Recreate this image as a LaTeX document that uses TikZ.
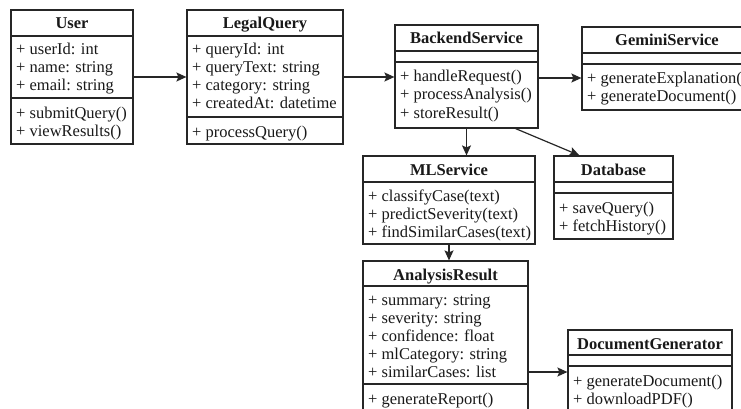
\documentclass[tikz,border=0pt]{standalone}
\usepackage{fontspec}
\setmainfont{Liberation Serif}
\usepackage{tikz}
\usetikzlibrary{arrows.meta,positioning,calc}

\begin{document}
\begin{tikzpicture}[x=1pt,y=-1pt,
    classbox/.style={draw=black!85, line width=1.2pt, inner sep=0pt},
    classname/.style={anchor=base, inner sep=0pt, text=black!90, font=\fontsize{16.5}{18}\selectfont\bfseries},
    member/.style={anchor=base west, inner sep=0pt, text=black!90, font=\fontsize{16.5}{18}\selectfont},
    sepline/.style={line width=1.2pt, black!85},
    uses/.style={-{Stealth[length=10pt,width=9pt,inset=2pt]}, line width=1.2pt, black!85}]
  \useasboundingbox (0,0) rectangle (741,409);
  \fill[white] (0,0) rectangle (741,409);
  \clip (0,0) rectangle (741,409);

  % User
  \node[classbox, minimum width=122pt, minimum height=134pt] (user) at (72,77) {};
  \draw[sepline] (user.west |- 0,36) -- (user.east |- 0,36);
  \draw[sepline] (user.west |- 0,98) -- (user.east |- 0,98);
  \node[classname] (user-t) at (72,29) {User};
  \foreach \m [count=\i] in {{+ userId: int},{+ name: string},{+ email: string}}
    \node[member] (user-a\i) at (16,37+18*\i) {\m};
  \foreach \m [count=\i] in {{+ submitQuery()},{+ viewResults()}}
    \node[member] (user-m\i) at (16,100+18*\i) {\m};

  % LegalQuery
  \node[classbox, minimum width=156pt, minimum height=134pt] (query) at (265,77) {};
  \draw[sepline] (query.west |- 0,36) -- (query.east |- 0,36);
  \draw[sepline] (query.west |- 0,117) -- (query.east |- 0,117);
  \node[classname] (query-t) at (265,29) {LegalQuery};
  \foreach \m [count=\i] in {{+ queryId: int},{+ queryText: string},{+ category: string},{+ createdAt: datetime}}
    \node[member] (query-a\i) at (192,37+18*\i) {\m};
  \node[member] (query-m1) at (192,137) {+ processQuery()};

  % BackendService
  \node[classbox, minimum width=143pt, minimum height=103pt] (backend) at (466.5,76.5) {};
  \draw[sepline] (backend.west |- 0,51) -- (backend.east |- 0,51);
  \draw[sepline] (backend.west |- 0,62) -- (backend.east |- 0,62);
  \node[classname] (backend-t) at (466.5,44) {BackendService};
  \foreach \m [count=\i] in {{+ handleRequest()},{+ processAnalysis()},{+ storeResult()}}
    \node[member] (backend-m\i) at (400,64+18*\i) {\m};

  % GeminiService
  \node[classbox, minimum width=170pt, minimum height=83pt] (gemini) at (667,68.5) {};
  \draw[sepline] (gemini.west |- 0,53) -- (gemini.east |- 0,53);
  \draw[sepline] (gemini.west |- 0,64) -- (gemini.east |- 0,64);
  \node[classname] (gemini-t) at (667,46) {GeminiService};
  \foreach \m [count=\i] in {{+ generateExplanation()},{+ generateDocument()}}
    \node[member] (gemini-m\i) at (587,66+18*\i) {\m};

  % MLService
  \node[classbox, minimum width=172pt, minimum height=88pt] (ml) at (449,200) {};
  \draw[sepline] (ml.west |- 0,182) -- (ml.east |- 0,182);
  \node[classname] (ml-t) at (449,175) {MLService};
  \foreach \m [count=\i] in {{+ classifyCase(text)},{+ predictSeverity(text)},{+ findSimilarCases(text)}}
    \node[member] (ml-m\i) at (368,183+18*\i) {\m};

  % Database
  \node[classbox, minimum width=119pt, minimum height=83pt] (db) at (613.5,197.5) {};
  \draw[sepline] (db.west |- 0,182) -- (db.east |- 0,182);
  \draw[sepline] (db.west |- 0,193) -- (db.east |- 0,193);
  \node[classname] (db-t) at (613.5,175) {Database};
  \foreach \m [count=\i] in {{+ saveQuery()},{+ fetchHistory()}}
    \node[member] (db-m\i) at (559,195+18*\i) {\m};

  % AnalysisResult
  \node[classbox, minimum width=165pt, minimum height=153pt] (ar) at (445.5,337.5) {};
  \draw[sepline] (ar.west |- 0,286) -- (ar.east |- 0,286);
  \draw[sepline] (ar.west |- 0,384) -- (ar.east |- 0,384);
  \node[classname] (ar-t) at (445.5,280) {AnalysisResult};
  \foreach \m [count=\i] in {{+ summary: string},{+ severity: string},{+ confidence: float},{+ mlCategory: string},{+ similarCases: list}}
    \node[member] (ar-a\i) at (368,287+18*\i) {\m};
  \node[member] (ar-m1) at (368,404) {+ generateReport()};

  % DocumentGenerator
  \node[classbox, minimum width=164pt, minimum height=84pt] (docgen) at (650,372) {};
  \draw[sepline] (docgen.west |- 0,355) -- (docgen.east |- 0,355);
  \draw[sepline] (docgen.west |- 0,366) -- (docgen.east |- 0,366);
  \node[classname] (docgen-t) at (650,349) {DocumentGenerator};
  \foreach \m [count=\i] in {{+ generateDocument()},{+ downloadPDF()}}
    \node[member] (docgen-m\i) at (573,368+18*\i) {\m};

  % associations
  \draw[uses] (user) -- (query);
  \draw[uses] (query.east) -- (query.east -| backend.west);
  \draw[uses] ($(backend.east)+(0,1.5)$) -- ($(backend.east -| gemini.west)+(0,1.5)$);
  \draw[uses] (backend.south) -- (backend.south |- ml.north);
  \draw[uses] ($(backend.south east)+(-23,0)$) -- ($(db.north west)+(26,0)$);
  \draw[uses] (ml.south) -- (ml.south |- ar.north);
  \draw[uses] (docgen.west -| ar.east) -- (docgen.west);
\end{tikzpicture}
\end{document}
